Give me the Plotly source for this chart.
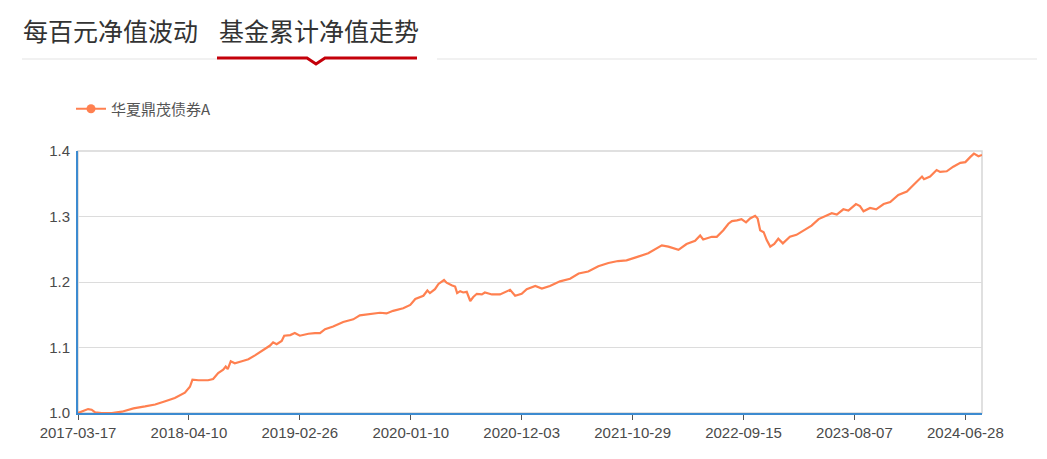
import plotly.graph_objects as go

# ---- data ----
series_name = "华夏鼎茂债券A"
day_index = [0, 10, 20, 27, 34, 47, 67, 87, 110, 133, 153, 173, 192, 212, 222, 227, 239, 258, 268, 278,
             288, 293, 297, 303, 311, 325, 338, 351, 364, 374, 381, 387, 394, 404, 409, 421, 430, 440, 457, 470,
             480, 490, 506, 526, 546, 559, 579, 599, 612, 625, 645, 659, 669, 685, 693, 698, 708, 715, 726, 731,
             741, 748, 752, 758, 764, 771, 778, 784, 791, 801, 807, 821, 837, 847, 857, 867, 880, 890, 907, 920,
             936, 956, 976, 993, 1012, 1032, 1052, 1071, 1088, 1108, 1131, 1158, 1171, 1191, 1207, 1224, 1234, 1240, 1257, 1267,
             1280, 1290, 1297, 1307, 1316, 1325, 1333, 1343, 1348, 1353, 1360, 1366, 1373, 1381, 1389, 1398, 1412, 1425, 1439, 1455,
             1469, 1485, 1495, 1505, 1518, 1528, 1543, 1551, 1558, 1571, 1583, 1598, 1611, 1627, 1644, 1657, 1667, 1674, 1678, 1690,
             1703, 1710, 1723, 1736, 1750, 1760, 1770, 1777, 1786, 1793]
nav = [1.000, 1.003, 1.006, 1.005, 1.001, 1.000, 1.000, 1.002, 1.007, 1.010, 1.013, 1.018, 1.023, 1.031, 1.040, 1.051, 1.050, 1.050, 1.052, 1.061,
       1.066, 1.071, 1.067, 1.079, 1.076, 1.079, 1.082, 1.088, 1.094, 1.099, 1.103, 1.108, 1.105, 1.110, 1.118, 1.119, 1.122, 1.118, 1.121, 1.122,
       1.122, 1.128, 1.132, 1.139, 1.143, 1.149, 1.151, 1.153, 1.152, 1.156, 1.160, 1.165, 1.174, 1.179, 1.187, 1.183, 1.189, 1.197, 1.203, 1.199,
       1.195, 1.193, 1.183, 1.186, 1.184, 1.185, 1.171, 1.177, 1.182, 1.181, 1.184, 1.181, 1.181, 1.184, 1.188, 1.179, 1.182, 1.189, 1.194, 1.190,
       1.194, 1.201, 1.205, 1.213, 1.216, 1.224, 1.229, 1.232, 1.233, 1.238, 1.244, 1.256, 1.254, 1.249, 1.258, 1.263, 1.271, 1.265, 1.269, 1.269,
       1.279, 1.289, 1.293, 1.294, 1.296, 1.291, 1.297, 1.301, 1.297, 1.279, 1.276, 1.264, 1.254, 1.258, 1.266, 1.259, 1.269, 1.272, 1.279, 1.286,
       1.296, 1.301, 1.305, 1.303, 1.311, 1.309, 1.319, 1.316, 1.308, 1.313, 1.311, 1.319, 1.322, 1.333, 1.338, 1.348, 1.356, 1.361, 1.357, 1.361,
       1.371, 1.368, 1.369, 1.376, 1.382, 1.383, 1.391, 1.396, 1.392, 1.394]
tick_labels = ["2017-03-17", "2018-04-10", "2019-02-26", "2020-01-10",
               "2020-12-03", "2021-10-29", "2022-09-15", "2023-08-07", "2024-06-28"]
tick_days = [0, 220, 440, 660, 880, 1100, 1320, 1540, 1760]
y_ticks = [1.0, 1.1, 1.2, 1.3, 1.4]
tab_titles = ["每百元净值波动", "基金累计净值走势"]

# ---- geometry (page pixels; the html body adds an 8px margin) ----
OFF = 8
W, H = 1047 - OFF, 459 - OFF
L, R, T, B = 78, 982, 151, 413  # plot area in page pixels


def px(x):
    return (x - L) / (R - L)


def py(y):
    return (B - y) / (B - T)


LINE_COLOR = "#ff8050"
AXIS_BLUE = "#3d8bd0"
CJK = "Noto Sans CJK SC"
LAT = "Liberation Sans, Arial"

fig = go.Figure()
fig.add_trace(go.Scatter(
    x=day_index, y=nav, mode="lines", name=series_name, showlegend=False,
    line=dict(color=LINE_COLOR, width=2.2),
))
# legend entry (line with round marker)
fig.add_trace(go.Scatter(
    x=[None], y=[None], mode="lines+markers", name=series_name,
    line=dict(color=LINE_COLOR, width=2), marker=dict(color=LINE_COLOR, size=9),
))

shapes = []
shapes.append(dict(type="rect", xref="paper", yref="paper", x0=0, x1=1, y0=0, y1=1,
                   line=dict(color="#d6d6d6", width=1.5), layer="below"))
shapes.append(dict(type="line", xref="paper", yref="paper", x0=px(22), x1=px(217), y0=py(59), y1=py(59),
                   line=dict(color="#e3e3e3", width=1)))
shapes.append(dict(type="line", xref="paper", yref="paper", x0=px(437), x1=px(1037), y0=py(59), y1=py(59),
                   line=dict(color="#e3e3e3", width=1)))
path = "M {a},{b} L {c},{b} L {d},{e} L {f},{b} L {g},{b}".format(
    a=px(217), b=py(58), c=px(307), d=px(316), e=py(64), f=px(325), g=px(417))
shapes.append(dict(type="path", xref="paper", yref="paper", path=path,
                   line=dict(color="#c4000a", width=3)))

annotations = [
    dict(text=tab_titles[0], xref="paper", yref="paper", x=px(21), y=py(30), xanchor="left", yanchor="middle",
         showarrow=False, font=dict(family=CJK, size=25, color="#333333")),
    dict(text=tab_titles[1], xref="paper", yref="paper", x=px(217), y=py(30), xanchor="left", yanchor="middle",
         showarrow=False, font=dict(family=CJK, size=25, color="#333333")),
]

fig.update_layout(
    width=W, height=H, autosize=False,
    margin=dict(l=L - OFF, r=(W + OFF) - R, t=T - OFF, b=(H + OFF) - B, pad=0),
    paper_bgcolor="white", plot_bgcolor="white",
    showlegend=True,
    legend=dict(x=px(71), y=py(109), xanchor="left", yanchor="middle",
                font=dict(family=CJK, size=15, color="#555555"),
                bgcolor="rgba(0,0,0,0)", borderwidth=0, itemwidth=30),
    shapes=shapes, annotations=annotations,
    xaxis=dict(range=[0, day_index[-1]], tickmode="array", tickvals=tick_days, ticktext=tick_labels,
               showgrid=False, zeroline=False, showline=True, linecolor=AXIS_BLUE, linewidth=2,
               ticks="outside", ticklen=5, tickcolor="#555555", tickwidth=1,
               tickfont=dict(family=LAT, size=15, color="#4a4a4a"), fixedrange=True),
    yaxis=dict(range=[1.0, 1.4], tickmode="array", tickvals=y_ticks,
               ticktext=["%.1f" % v for v in y_ticks],
               showgrid=True, gridcolor="#dcdcdc", gridwidth=1, zeroline=False,
               showline=True, linecolor=AXIS_BLUE, linewidth=2, ticks="",
               ticklabelstandoff=3,
               tickfont=dict(family=LAT, size=15, color="#4a4a4a"), fixedrange=True),
)

fig.write_html("out.html")
